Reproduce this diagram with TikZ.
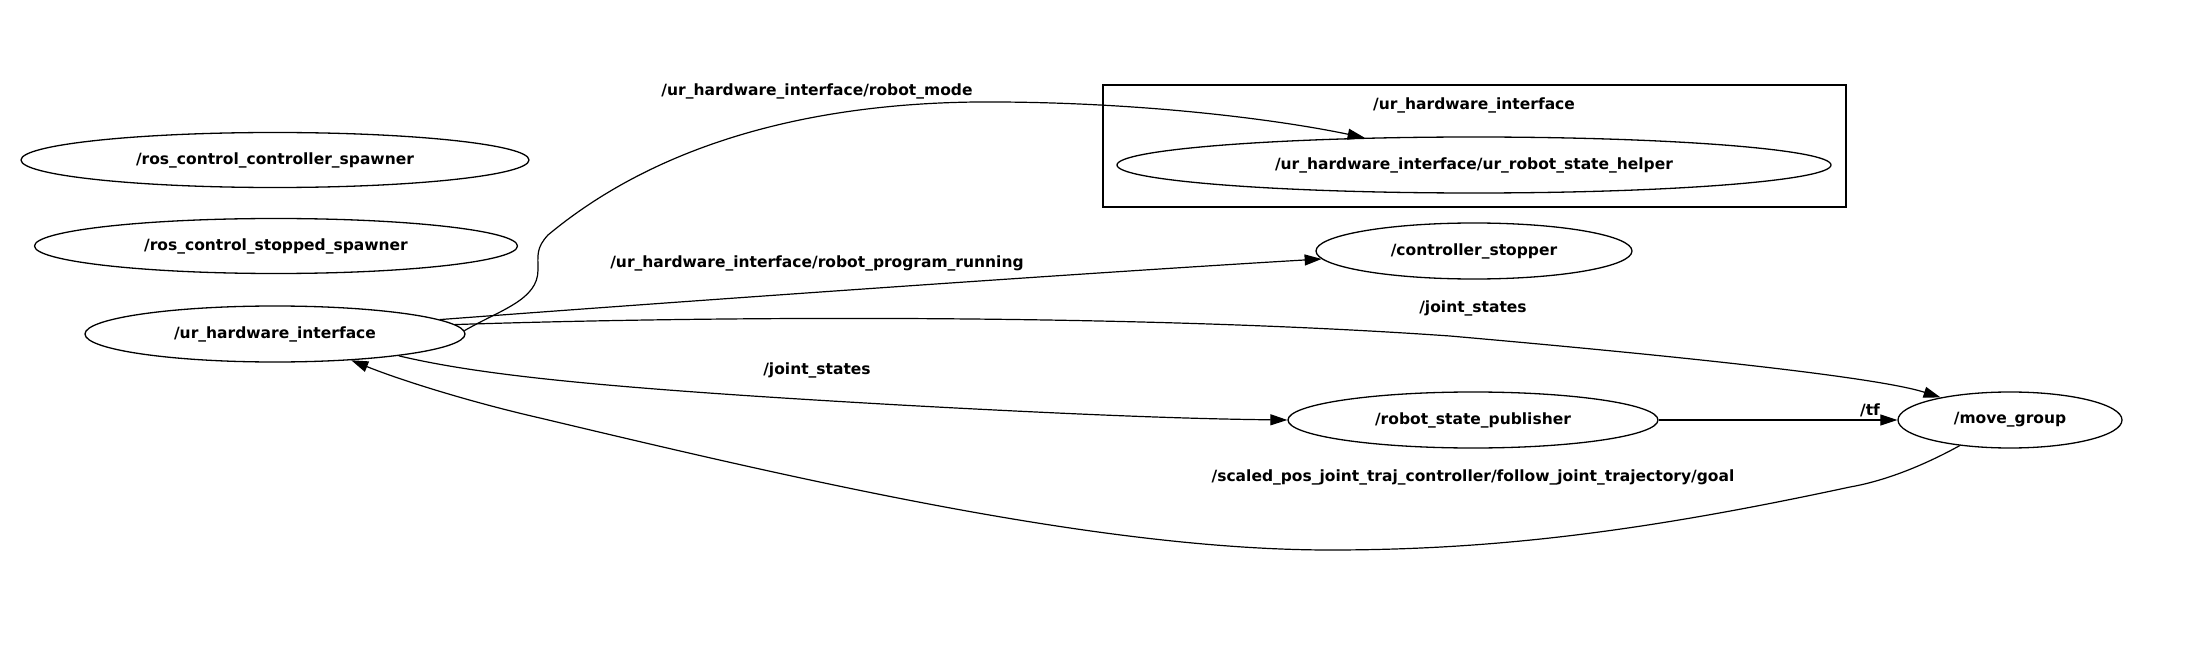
\documentclass[tikz,border=0pt]{standalone}
\usepackage{fontspec}
\setmainfont{DejaVu Sans}
\usetikzlibrary{shapes.geometric,arrows.meta}
\begin{document}
\begin{tikzpicture}[x=1pt,y=-1pt,
  every node/.style={font=\fontsize{15.5}{18}\selectfont\bfseries},
  rosnode/.style={draw,ellipse,line width=1.3pt,inner sep=0pt},
  lbl/.style={inner sep=0pt},
  edge/.style={line width=1.2pt,-{Triangle[length=17pt,width=11pt]}},
  cluster/.style={draw,line width=1.3pt,inner sep=0pt}]
\useasboundingbox (0,0) rectangle (2196,655);
% cluster
\node[cluster,minimum width=743pt,minimum height=122pt] (clu) at (1474.5,146) {};
\node[lbl] (clulbl) at (1474,105) {/ur\_hardware\_interface};
% nodes
\node[rosnode,minimum width=508pt,minimum height=55pt] (spawn) at (275,160) {/ros\_control\_controller\_spawner};
\node[rosnode,minimum width=483pt,minimum height=55pt] (stopsp) at (276,246) {/ros\_control\_stopped\_spawner};
\node[rosnode,minimum width=380pt,minimum height=56pt] (uhi) at (275,334) {/ur\_hardware\_interface};
\node[rosnode,minimum width=714pt,minimum height=56pt] (helper) at (1474,165) {/ur\_hardware\_interface/ur\_robot\_state\_helper};
\node[rosnode,minimum width=316pt,minimum height=56pt] (stopper) at (1474,251) {/controller\_stopper};
\node[rosnode,minimum width=370pt,minimum height=56pt] (rsp) at (1473,420) {/robot\_state\_publisher};
\node[rosnode,minimum width=224pt,minimum height=56pt] (move) at (2010,420) {/move\_group};
% labels
\node[lbl] (l1) at (817,91) {/ur\_hardware\_interface/robot\_mode};
\node[lbl] (l2) at (817,263) {/ur\_hardware\_interface/robot\_program\_running};
\node[lbl] (l3) at (1473,308) {/joint\_states};
\node[lbl] (l4) at (817,370) {/joint\_states};
\node[lbl] (l5) at (1870,410) {/tf};
\node[lbl] (l6) at (1473,477) {/scaled\_pos\_joint\_traj\_controller/follow\_joint\_trajectory/goal};
% edges
\draw[edge] (uhi.1) .. controls (500,310) and (538,300) .. (538,270)
  .. controls (538,255) and (536,248) .. (548,235)
  .. controls (650,150) and (800,100) .. (1000,102)
  .. controls (1150,103) and (1280,120) .. (helper.166.6);
\draw[edge] (uhi.5.5) .. controls (700,300) and (1100,272) .. (stopper.183);
\draw[edge] (uhi.3) .. controls (750,315) and (1150,315) .. (1450,336)
  .. controls (1700,358) and (1880,378) .. (move.162.6);
\draw[edge] (uhi.-10.8) .. controls (480,375) and (600,388) .. (900,405)
  .. controls (1100,416) and (1200,419) .. (rsp.west);
\draw[edge] (rsp.east) -- (move.west);
\draw[edge] (move.207) .. controls (1930,462) and (1890,480) .. (1850,487)
  .. controls (1650,530) and (1500,550) .. (1330,550)
  .. controls (1100,550) and (800,480) .. (540,418)
  .. controls (470,402) and (400,380) .. (uhi.-19);
\end{tikzpicture}
\end{document}
